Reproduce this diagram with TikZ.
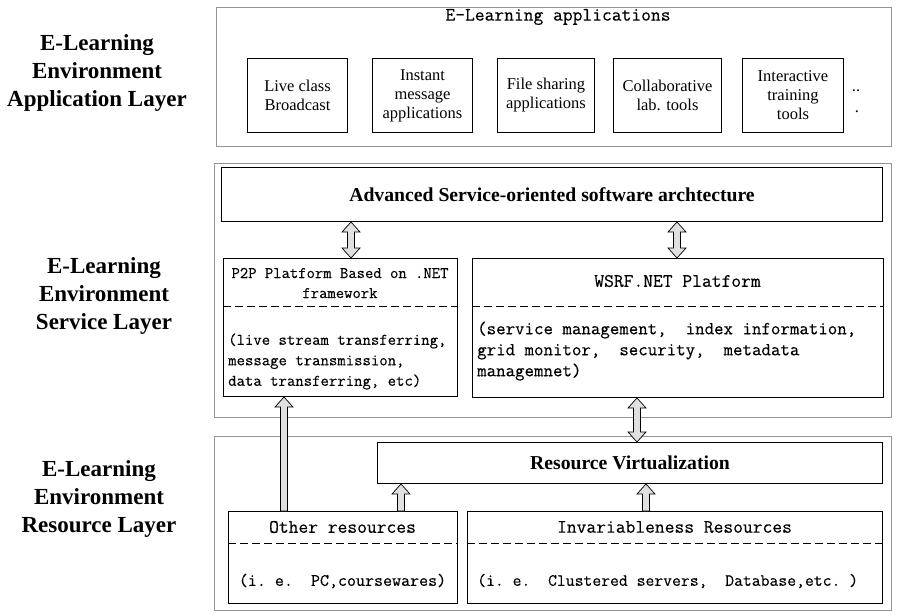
\documentclass[tikz,border=0pt]{standalone}
\usepackage{fontspec}
\setmainfont{Liberation Serif}
\setmonofont{Latin Modern Mono}[FakeBold=0.3]
\usetikzlibrary{calc}

% block arrows: up arrow and double-headed arrow between two named points
\newcommand\blockup[2]{%
  \filldraw[blockarrow] let \p1=(#1), \p2=(#2) in
    (\x1-3.5pt,\y1) -- (\x1-3.5pt,\y2-10pt) -- (\x1-9pt,\y2-10pt) -- (\x1,\y2)
    -- (\x1+9pt,\y2-10pt) -- (\x1+3.5pt,\y2-10pt) -- (\x1+3.5pt,\y1) -- cycle;}
\newcommand\blockboth[2]{%
  \filldraw[blockarrow] let \p1=(#1), \p2=(#2) in
    (\x1,\y1) -- (\x1+9pt,\y1+10pt) -- (\x1+3.5pt,\y1+10pt) -- (\x1+3.5pt,\y2-10pt)
    -- (\x1+9pt,\y2-10pt) -- (\x1,\y2) -- (\x1-9pt,\y2-10pt) -- (\x1-3.5pt,\y2-10pt)
    -- (\x1-3.5pt,\y1+10pt) -- (\x1-9pt,\y1+10pt) -- cycle;}

\tikzset{
  layerbox/.style={draw=black!42, line width=1.1pt, inner sep=0pt, anchor=north west},
  box/.style={draw=black, line width=1pt, inner sep=0pt, anchor=north west},
  blockarrow/.style={draw=black, fill=black!12, line width=0.7pt, line join=miter},
  sep/.style={dashed, dash pattern=on 8pt off 4pt, line width=0.9pt},
  layerlabel/.style={font=\bfseries\fontsize{23}{28}\selectfont, align=center, inner sep=0pt},
  apptext/.style={font=\fontsize{16.5}{19}\selectfont, align=center, inner sep=0pt},
  headtext/.style={font=\bfseries\fontsize{19.7}{23}\selectfont, inner sep=0pt},
  monotext/.style={font=\ttfamily\fontsize{#1}{21}\selectfont, inner sep=0pt},
}

\begin{document}
\begin{tikzpicture}[x=1pt, y=-1pt]
\useasboundingbox (0,0) rectangle (897,614);

% ---------- layer labels ----------
\node[layerlabel] (lblapp) at (97,73) {E-Learning\\Environment\\Application Layer};
\node[layerlabel] (lblsrv) at (104,296) {E-Learning\\Environment\\Service Layer};
\node[layerlabel] (lblres) at (99,499) {E-Learning\\Environment\\Resource Layer};

% ---------- application layer ----------
\node[layerbox, minimum width=675pt, minimum height=139pt] (applayer) at (216,7) {};
\node[monotext=19] (apptitle) at (558,17) {E-Learning applications};
\node[box, minimum width=100pt, minimum height=74pt] (live) at (247,58) {};
\node[box, minimum width=100pt, minimum height=74pt] (inst) at (372,58) {};
\node[box, minimum width=97pt,  minimum height=74pt] (file) at (497,58) {};
\node[box, minimum width=108pt, minimum height=74pt] (coll) at (613,58) {};
\node[box, minimum width=101pt, minimum height=74pt] (inter) at (742,58) {};
\node[apptext] (livet)  at (live)  {Live class\\Broadcast};
\node[apptext] (instt)  at (inst)  {Instant\\message\\applications};
\node[apptext] (filet)  at (file)  {File sharing\\applications};
\node[apptext] (collt)  at (coll)  {Collaborative\\lab. tools};
\node[apptext] (intert) at (inter) {Interactive\\training\\tools};
\node[apptext] (dotsa) at (856,91) {..};
\node[apptext] (dotsb) at (857,112) {.};

% ---------- service layer ----------
\node[layerbox, minimum width=677pt, minimum height=254pt] (srvlayer) at (214,163) {};
\node[box, minimum width=661pt, minimum height=54pt] (adv) at (221,167) {};
\node[headtext] (advt) at (adv) {Advanced Service-oriented software archtecture};

\node[box, minimum width=234pt, minimum height=138pt] (p2p) at (223,258) {};
\draw[sep] (p2p.west |- 0,306) -- (p2p.east |- 0,306);
\node[monotext=16.2, align=center] (p2ptitle) at (340,283)
  {P2P Platform Based on .NET\\[-1pt]framework};
\node[monotext=16.3, align=left, anchor=west] (p2pbody) at (228,361.5)
  {(live stream transferring,\\[-0.5pt]message transmission,\\[-0.5pt]data transferring,~etc)};

\node[box, minimum width=411pt, minimum height=139pt] (wsrf) at (472,258) {};
\draw[sep] (wsrf.west |- 0,306) -- (wsrf.east |- 0,306);
\node[monotext=19] (wsrft) at (677.5,281) {WSRF.NET Platform};
\node[monotext=18.4, align=left, anchor=west] (wsrfbody) at (477,351)
  {(service management,~~index information,\\grid monitor,~~security,~~metadata\\managemnet)};

% ---------- resource layer ----------
\node[layerbox, minimum width=677pt, minimum height=174pt] (reslayer) at (214,436) {};
\node[box, minimum width=505pt, minimum height=41pt] (rv) at (377,442) {};
\node[headtext] (rvt) at (rv) {Resource Virtualization};

\node[box, minimum width=229pt, minimum height=92pt] (other) at (228,511) {};
\draw[sep] (other.west |- 0,543) -- (other.east |- 0,543);
\node[monotext=19] (othert) at (342.5,527) {Other resources};
\node[monotext=17.5] (otherbody) at (342.5,581) {(i.~e.~~PC,coursewares)};

\node[box, minimum width=415pt, minimum height=92pt] (invar) at (467,511) {};
\draw[sep] (invar.west |- 0,543) -- (invar.east |- 0,543);
\node[monotext=19] (invart) at (674.5,527) {Invariableness Resources};
\node[monotext=17.2, anchor=west] (invarbody) at (477,581)
  {(i.~e.~~Clustered servers,~~Database,etc.~)};

% ---------- arrows ----------
\coordinate (xa) at (351,0);
\coordinate (xb) at (677,0);
\coordinate (xc) at (284,0);
\coordinate (xd) at (637,0);
\coordinate (xe) at (401,0);
\coordinate (xf) at (646,0);
\blockboth{p2p.north -| xa}{adv.south -| xa}
\blockboth{wsrf.north -| xb}{adv.south -| xb}
\blockup{other.north -| xc}{p2p.south -| xc}
\blockboth{rv.north -| xd}{wsrf.south -| xd}
\blockup{other.north -| xe}{rv.south -| xe}
\blockup{invar.north -| xf}{rv.south -| xf}
\end{tikzpicture}
\end{document}
